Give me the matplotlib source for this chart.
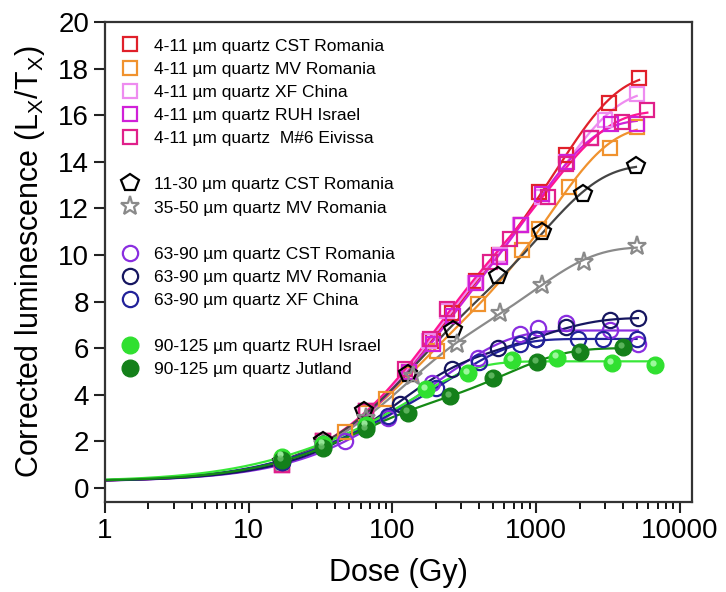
import numpy as np
import matplotlib
matplotlib.use("Agg")
import matplotlib.pyplot as plt
import matplotlib.transforms as mtransforms
from matplotlib.lines import Line2D
from matplotlib.ticker import LogLocator, FixedLocator, NullLocator

plt.rcParams['font.family'] = ['Liberation Sans', 'DejaVu Sans']
plt.rcParams['mathtext.fontset'] = 'custom'
plt.rcParams['mathtext.rm'] = 'Liberation Sans'
plt.rcParams['mathtext.it'] = 'Liberation Sans'

# ---- data (dose in Gy, corrected luminescence Lx/Tx) ----
cst411_dose = [17, 33, 65, 130, 190, 260, 380, 550, 780, 1050, 1600, 3200, 5200]
cst411_lum = [1.0, 2.0, 3.3, 5.0, 6.3, 7.5, 8.9, 10.0, 11.3, 12.7, 14.3, 16.5, 17.6]

mv411_dose = [17, 33, 47, 65, 90, 130, 205, 395, 800, 1050, 1680, 3270, 5000]
mv411_lum = [1.1, 2.0, 2.4, 3.2, 3.8, 4.9, 5.9, 7.9, 10.2, 11.1, 12.9, 14.6, 15.5]

xf411_dose = [17, 33, 65, 130, 180, 240, 375, 560, 770, 1100, 1600, 3000, 5000]
xf411_lum = [1.0, 2.0, 3.3, 5.0, 6.3, 7.6, 8.8, 10.0, 11.3, 12.5, 14.0, 15.8, 16.9]

ruh411_dose = [17, 33, 65, 130, 190, 265, 380, 560, 780, 1100, 1650, 2400, 3300, 5000]
ruh411_lum = [1.0, 2.0, 3.3, 5.0, 6.2, 7.4, 8.8, 9.9, 11.3, 12.6, 14.0, 15.0, 15.6, 15.6]

m6_411_dose = [17, 33, 65, 122, 182, 238, 475, 660, 1210, 1600, 2400, 3930, 5930]
m6_411_lum = [1.0, 2.0, 3.3, 5.1, 6.4, 7.7, 9.7, 10.7, 12.5, 13.9, 15.0, 15.7, 16.2]

cst1130_dose = [17, 33, 63, 129, 265, 545, 1090, 2125, 4940]
cst1130_lum = [1.1, 2.0, 3.3, 4.9, 6.8, 9.1, 11.0, 12.6, 13.8]

mv3550_dose = [17, 33, 65, 140, 280, 560, 1100, 2135, 5000]
mv3550_lum = [1.1, 1.9, 3.0, 4.8, 6.2, 7.5, 8.7, 9.7, 10.4]

cst6390_dose = [17, 47, 93, 187, 396, 770, 1030, 1620, 3250, 5100]
cst6390_lum = [1.1, 2.0, 3.0, 4.5, 5.6, 6.6, 6.85, 7.1, 6.8, 6.2]

mv6390_dose = [17, 33, 65, 112, 258, 540, 1000, 1620, 3250, 5100]
mv6390_lum = [1.1, 1.9, 2.7, 3.6, 5.1, 6.0, 6.4, 6.9, 7.2, 7.3]

xf6390_dose = [17, 33, 65, 93, 200, 400, 770, 1000, 1950, 2930, 4990]
xf6390_lum = [1.1, 1.9, 2.6, 3.1, 4.3, 5.4, 6.17, 6.38, 6.38, 6.38, 6.38]

ruh90125_dose = [17, 33, 65, 172, 335, 675, 1390, 3360, 6680]
ruh90125_lum = [1.35, 1.9, 2.7, 4.24, 4.95, 5.5, 5.6, 5.38, 5.27]

jut90125_dose = [17, 33, 65, 129, 250, 500, 1010, 2030, 4000]
jut90125_lum = [1.2, 1.7, 2.55, 3.24, 3.95, 4.74, 5.41, 5.84, 6.03]

labels = [
    "4-11 \u00b5m quartz CST Romania",
    "4-11 \u00b5m quartz MV Romania",
    "4-11 \u00b5m quartz XF China",
    "4-11 \u00b5m quartz RUH Israel",
    "4-11 \u00b5m quartz  M#6 Eivissa",
    "11-30 \u00b5m quartz CST Romania",
    "35-50 \u00b5m quartz MV Romania",
    "63-90 \u00b5m quartz CST Romania",
    "63-90 \u00b5m quartz MV Romania",
    "63-90 \u00b5m quartz XF China",
    "90-125 \u00b5m quartz RUH Israel",
    "90-125 \u00b5m quartz Jutland",
]

# (dose, lum, colour, marker, markersize, filled)
series = [
    (cst411_dose, cst411_lum, '#e0202a', 's', 10, False),
    (mv411_dose, mv411_lum, '#f0922e', 's', 10, False),
    (xf411_dose, xf411_lum, '#ee8cf0', 's', 10, False),
    (ruh411_dose, ruh411_lum, '#d020d8', 's', 10, False),
    (m6_411_dose, m6_411_lum, '#e0208a', 's', 10, False),
    (cst1130_dose, cst1130_lum, '#000000', 'p', 13, False),
    (mv3550_dose, mv3550_lum, '#8a8a8a', '*', 14, False),
    (cst6390_dose, cst6390_lum, '#8a2ee0', 'o', 11, False),
    (mv6390_dose, mv6390_lum, '#161660', 'o', 11, False),
    (xf6390_dose, xf6390_lum, '#22229a', 'o', 11, False),
    (ruh90125_dose, ruh90125_lum, '#30e030', 'o', 12, True),
    (jut90125_dose, jut90125_lum, '#14801a', 'o', 12, True),
]
line_colors = ['#e0202a', '#f0922e', '#ee8cf0', '#d020d8', '#ff1493',
               '#444444', '#8a8a8a', '#8a2ee0', '#161660', '#22229a',
               '#38e838', '#158a15']
highlight = {'#30e030': '#b8ffb8', '#14801a': '#6cc06c'}


def fit_dse(dose, lum, c=0.28):
    """double saturating exponential fitted by grid search + least squares"""
    d = np.asarray(dose, float)
    y = np.asarray(lum, float) - c
    grid = np.logspace(1, 4.6, 70)
    best = None
    for i, d1 in enumerate(grid):
        for d2 in grid[i:]:
            A = np.column_stack([1 - np.exp(-d / d1), 1 - np.exp(-d / d2)])
            coef, *_ = np.linalg.lstsq(A, y, rcond=None)
            if np.any(coef < 0):
                continue
            r = np.sum((A @ coef - y) ** 2)
            if best is None or r < best[0]:
                best = (r, d1, d2, coef)
    _, d1, d2, coef = best
    return lambda x: c + coef[0] * (1 - np.exp(-x / d1)) + coef[1] * (1 - np.exp(-x / d2))


fig = plt.figure(figsize=(7.26, 5.92), dpi=100)
ax = fig.add_axes([0.1446, 0.152, 0.8084, 0.811])
shift = mtransforms.ScaledTranslation(-1.5 / 72, 1.5 / 72, fig.dpi_scale_trans)

handles = []
for (d, l, col, mk, ms, filled), lc in zip(series, line_colors):
    f = fit_dse(d, l)
    xx = np.logspace(0, np.log10(max(d)), 300)
    ax.plot(xx, f(xx), color=lc, lw=1.6, zorder=2)
    if filled:
        kw = dict(mfc=col, mec=col, mew=1.0)
    else:
        kw = dict(mfc='none', mec=col, mew=1.6)
    ax.plot(d, l, ls='none', marker=mk, ms=ms, zorder=3, **kw)
    if filled:
        # small lighter spot so the balls look shaded like the original
        ax.plot(d, l, ls='none', marker='o', ms=4.5, mfc=highlight[col], mec='none',
                alpha=0.8, zorder=4, transform=ax.transData + shift)
    handles.append(Line2D([], [], ls='none', marker=mk, ms=ms, **kw))

blank = Line2D([], [], ls='none', marker='none')
leg_handles = handles[:5] + [blank] + handles[5:7] + [blank] + handles[7:10] + [blank] + handles[10:]
leg_labels = labels[:5] + [' '] + labels[5:7] + [' '] + labels[7:10] + [' '] + labels[10:]
ax.legend(leg_handles, leg_labels, loc='upper left', bbox_to_anchor=(0.0, 1.0),
          frameon=False, fontsize=12.5, handlelength=1.0, handletextpad=0.9,
          labelspacing=0.46, borderaxespad=0.55)

ax.set_xscale('log')
ax.set_xlim(1, 12100)
ax.set_ylim(-0.6, 20)
ax.xaxis.set_major_locator(FixedLocator([1, 10, 100, 1000, 10000]))
ax.xaxis.set_minor_locator(LogLocator(base=10, subs=np.arange(2, 10)))
ax.set_xticklabels(['1', '10', '100', '1000', '10000'])
ax.yaxis.set_major_locator(FixedLocator(np.arange(0, 21, 2)))
ax.yaxis.set_minor_locator(NullLocator())

ax.tick_params(axis='both', which='major', direction='out', length=8, width=1.5,
               labelsize=20, colors='#222222', labelcolor='black')
ax.tick_params(axis='x', which='minor', direction='out', length=5, width=1.3)
ax.tick_params(top=False, right=False)
for s in ax.spines.values():
    s.set_linewidth(1.6)
    s.set_color('#333333')

ax.set_xlabel('Dose (Gy)', fontsize=22, labelpad=10)
ax.set_ylabel('Corrected luminescence (L$_\\mathregular{X}$/T$_\\mathregular{X}$)', fontsize=22, labelpad=8)

fig.savefig('out.png', dpi=100)
